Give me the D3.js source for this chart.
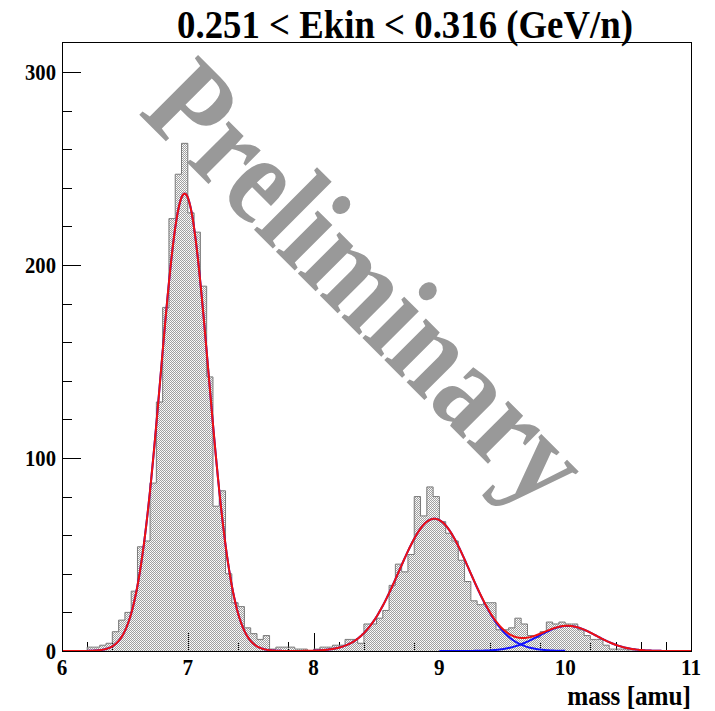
<!DOCTYPE html>
<html><head><meta charset="utf-8">
<script src="https://cdn.jsdelivr.net/npm/d3@7"></script>
<style>body{margin:0;background:#fff;overflow:hidden}</style>
</head><body>
<script>
// ---- data ----
const binStart = 6.0;
const binWidth = 0.05;
const counts = [
  0, 0, 0, 0, 2, 2, 3, 4, 10, 16,          // 6.00 - 6.45
  20, 31, 54, 57, 87, 129, 178, 224, 247, 263, // 6.50 - 6.95
  227, 217, 189, 142, 75, 83, 40, 25, 23, 12,  // 7.00 - 7.45
  9, 6, 8, 1, 2, 2, 2, 1, 1, 0,                // 7.50 - 7.95
  1, 2, 2, 3, 3, 6, 6, 4, 14, 14,              // 8.00 - 8.45
  17, 21, 34, 45, 41, 50, 80, 70, 85, 80,      // 8.50 - 8.95
  67, 61, 57, 47, 36, 26, 24, 25, 25, 11,      // 9.00 - 9.45
  11, 12, 17, 14, 8, 7, 10, 15, 14, 15,        // 9.50 - 9.95
  14, 14, 11, 8, 6, 6, 3, 1, 1, 1,             // 10.00 - 10.45
  0, 0, 0, 0, 0, 0, 0, 0, 0, 0                 // 10.50 - 10.95
];
const fitAmps   = [237, 68.5, 13];
const fitMeans  = [6.975, 8.96, 10.02];
const fitSigmas = [0.19, 0.28, 0.228];
const fitRanges = [[6, 8], [8, 10], [9, 11]];
const xTickLabels = [6, 7, 8, 9, 10, 11];
const yTickLabels = [0, 100, 200, 300];
const titleText = "0.251 < Ekin < 0.316 (GeV/n)";
const xTitleText = "mass [amu]";
const watermarkText = "Preliminary";

// ---- layout ----
const W = 715, H = 711;
const L = 62, R = 691, T = 42, B = 651;
const FONT = "'Liberation Serif','Times New Roman',serif";

const svg = d3.select("body").append("svg").attr("width", W).attr("height", H)
  .style("display", "block");

const x = d3.scaleLinear().domain([6, 11]).range([L, R]);
const y = d3.scaleLinear().domain([0, 315.5]).range([B, T]);

// pattern for ROOT-like fill
const defs = svg.append("defs");
const pat = defs.append("pattern").attr("id", "hatch").attr("patternUnits", "userSpaceOnUse")
  .attr("width", 2).attr("height", 2);
pat.append("rect").attr("x", 0).attr("y", 0).attr("width", 1).attr("height", 1).attr("fill", "#a0a0a0");
pat.append("rect").attr("x", 1).attr("y", 1).attr("width", 1).attr("height", 1).attr("fill", "#a0a0a0");
pat.append("rect").attr("x", 1).attr("y", 0).attr("width", 1).attr("height", 1).attr("fill", "#f0f0f0");

// ---- axes ticks (drawn first, under histogram) ----
const xAxisMajor = d3.axisTop(x).tickValues(xTickLabels).tickSize(18).tickFormat("");
const xMinorVals = d3.range(6, 11.0001, 0.2).map(v => +v.toFixed(2)).filter(v => Math.abs(v - Math.round(v)) > 1e-6);
const xAxisMinor = d3.axisTop(x).tickValues(xMinorVals).tickSize(9).tickFormat("");
const gx1 = svg.append("g").attr("transform", `translate(0,${B})`).call(xAxisMajor);
const gx2 = svg.append("g").attr("transform", `translate(0,${B})`).call(xAxisMinor);
const yAxisMajor = d3.axisRight(y).tickValues(yTickLabels).tickSize(19).tickFormat("");
const yMinorVals = d3.range(0, 315, 20).filter(v => v % 100 !== 0);
const yAxisMinor = d3.axisRight(y).tickValues(yMinorVals).tickSize(10).tickFormat("");
const gy1 = svg.append("g").attr("transform", `translate(${L},0)`).call(yAxisMajor);
const gy2 = svg.append("g").attr("transform", `translate(${L},0)`).call(yAxisMinor);
[gx1, gx2, gy1, gy2].forEach(g => {
  g.select(".domain").remove();
  g.selectAll("line").attr("stroke", "#000").attr("stroke-width", 1).attr("shape-rendering", "crispEdges");
});

// ---- histogram ----
const bins = counts.map((c, i) => ({ x0: binStart + i * binWidth, c }));
const stepPts = bins.concat([{ x0: binStart + counts.length * binWidth, c: counts[counts.length - 1] }]);
const area = d3.area().curve(d3.curveStepAfter)
  .x(d => x(d.x0)).y0(y(0)).y1(d => y(d.c));
svg.append("path").datum(stepPts).attr("d", area).attr("fill", "url(#hatch)");
let dStr = `M${x(binStart)},${y(0)}`;
bins.forEach(b => {
  dStr += `L${x(b.x0)},${y(b.c)}L${x(b.x0 + binWidth)},${y(b.c)}`;
});
dStr += `L${x(11)},${y(0)}`;
svg.append("path").attr("d", dStr).attr("fill", "none").attr("stroke", "#7a7a7a").attr("stroke-width", 1);

// ---- fit curves ----
const gauss = (k, m) => fitAmps[k] * Math.exp(-((m - fitMeans[k]) ** 2) / (2 * fitSigmas[k] ** 2));
const curve = d3.line().x(d => x(d[0])).y(d => y(d[1]));
fitRanges.forEach((r, k) => {
  const pts = d3.range(r[0], r[1] + 1e-9, 0.01).map(m => [m, gauss(k, m)]);
  svg.append("path").datum(pts).attr("d", curve).attr("fill", "none")
    .attr("stroke", "#1010ff").attr("stroke-width", 2);
});
const totPts = d3.range(6, 11 + 1e-9, 0.01).map(m => [m, gauss(0, m) + gauss(1, m) + gauss(2, m)]);
svg.append("path").datum(totPts).attr("d", curve).attr("fill", "none")
  .attr("stroke", "#ee1111").attr("stroke-width", 2);

// ---- frame ----
svg.append("rect").attr("x", L).attr("y", T).attr("width", R - L).attr("height", B - T)
  .attr("fill", "none").attr("stroke", "#000").attr("stroke-width", 1).attr("shape-rendering", "crispEdges");

// ---- tick labels ----
svg.append("g").selectAll("text").data(xTickLabels).join("text")
  .attr("transform", d => `translate(${x(d)},${B + 24}) scale(0.92,1)`).attr("text-anchor", "middle")
  .attr("font-family", FONT).attr("font-weight", "bold").attr("font-size", 23)
  .text(d => d);
svg.append("g").selectAll("text").data(yTickLabels).join("text")
  .attr("transform", d => `translate(${L - 6},${y(d) + 8}) scale(0.86,1)`).attr("text-anchor", "end")
  .attr("font-family", FONT).attr("font-weight", "bold").attr("font-size", 24)
  .text(d => d);

// ---- titles ----
svg.append("text").attr("transform", "translate(405,38) scale(0.92,1)").attr("text-anchor", "middle")
  .attr("font-family", FONT).attr("font-weight", "bold").attr("font-size", 40).text(titleText);
svg.append("text").attr("transform", `translate(${R},705) scale(0.9,1)`).attr("text-anchor", "end")
  .attr("font-family", FONT).attr("font-weight", "bold").attr("font-size", 28).text(xTitleText);

// ---- watermark ----
svg.append("text").attr("transform", "translate(368,283) rotate(45) scale(0.86,1)")
  .attr("text-anchor", "middle").attr("dominant-baseline", "central")
  .attr("font-family", FONT).attr("font-weight", "bold").attr("font-size", 128)
  .attr("fill", "#999999").text(watermarkText);
</script>
</body></html>
